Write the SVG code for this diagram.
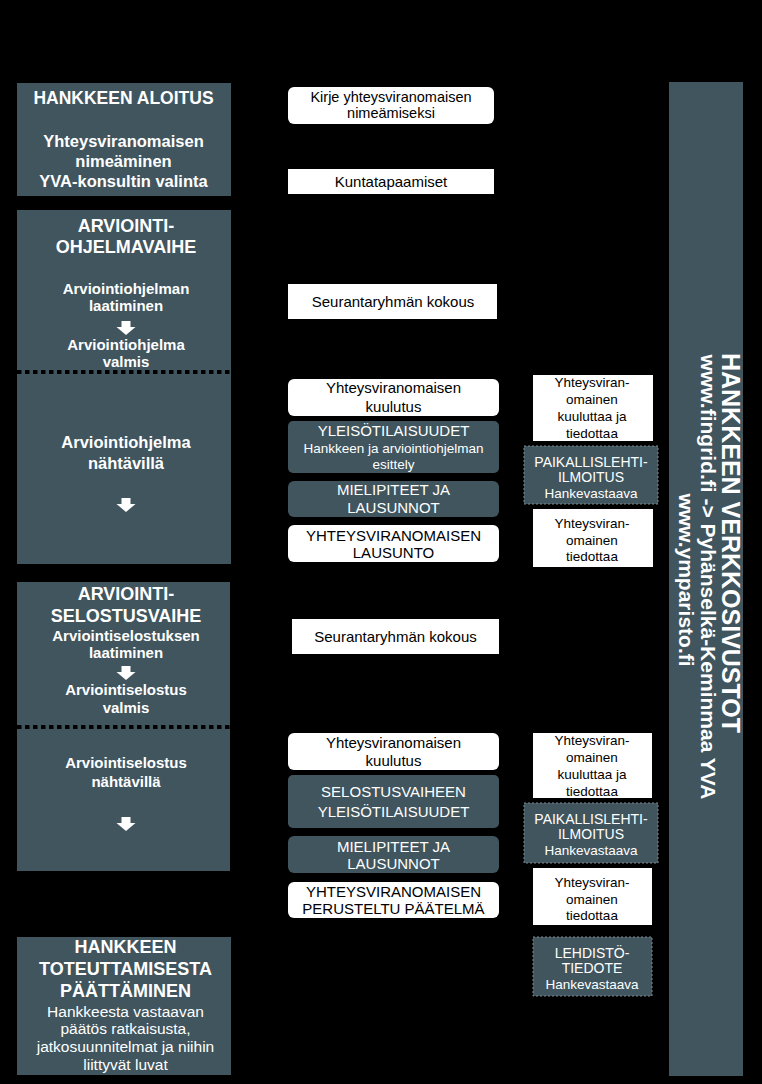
<svg xmlns="http://www.w3.org/2000/svg" xmlns:xlink="http://www.w3.org/1999/xlink" width="762" height="1084" viewBox="0 0 762 1084">
<style>
.dark{fill:#40555e}
.white{fill:#ffffff}
.dash{fill:#40555e;stroke:#7a8a90;stroke-width:1;stroke-dasharray:2 2}
text{font-family:"Liberation Sans",Arial,sans-serif;text-anchor:middle}
.tw{fill:#ffffff;font-weight:bold}
.title{font-size:18px}
.sub1{font-size:16.5px}
.sub{font-size:15px}
.reg{fill:#ffffff;font-size:15.5px}
.mb{fill:#000000;font-size:15px}
.mw{fill:#ffffff;font-size:15px}
.rb{fill:#000000;font-size:13.5px}
.rw{fill:#ffffff;font-size:14px}
.dots{stroke:#000;stroke-width:4;stroke-dasharray:4.5 3.5}
</style>
<defs>
<path id="arr" d="M-4.5,0 h9 v6 h5 l-9.5,8 l-9.5,-8 h5 z" fill="#ffffff"/>
</defs>
<rect x="0" y="0" width="762" height="1084" fill="#000000"/>

<g id="aloitus">
<rect class="dark" x="17" y="83" width="214" height="113"/>
<text class="tw" x="123.5" y="104" style="font-size:17.5px">HANKKEEN ALOITUS</text>
<text class="tw sub1" x="123.5" y="147">Yhteysviranomaisen</text>
<text class="tw sub1" x="123.5" y="167">nimeäminen</text>
<text class="tw sub1" x="123.5" y="187">YVA-konsultin valinta</text>
</g>

<g id="ohjelmavaihe">
<rect class="dark" x="17" y="210" width="214" height="354"/>
<text class="tw title" x="126" y="232">ARVIOINTI-</text>
<text class="tw title" x="126" y="253">OHJELMAVAIHE</text>
<text class="tw sub" x="126" y="294">Arviointiohjelman</text>
<text class="tw sub" x="126" y="311">laatiminen</text>
<text class="tw sub" x="126" y="350">Arviointiohjelma</text>
<text class="tw sub" x="126" y="367">valmis</text>
<line class="dots" x1="17" y1="372" x2="231" y2="372"/>
<text class="tw sub1" x="126" y="448">Arviointiohjelma</text>
<text class="tw sub1" x="126" y="469">nähtävillä</text>
</g>

<g id="selostusvaihe">
<rect class="dark" x="17" y="582" width="213" height="289"/>
<text class="tw title" x="126" y="600">ARVIOINTI-</text>
<text class="tw title" x="126" y="622">SELOSTUSVAIHE</text>
<text class="tw sub" x="126" y="641">Arviointiselostuksen</text>
<text class="tw sub" x="126" y="658">laatiminen</text>
<text class="tw sub" x="126" y="695">Arviointiselostus</text>
<text class="tw sub" x="126" y="713">valmis</text>
<line class="dots" x1="17" y1="727" x2="230" y2="727"/>
<text class="tw sub" x="126" y="768">Arviointiselostus</text>
<text class="tw sub" x="126" y="787">nähtävillä</text>
</g>

<g id="paattaminen">
<rect class="dark" x="17" y="937" width="214" height="138"/>
<text class="tw title" x="125.5" y="953">HANKKEEN</text>
<text class="tw title" x="125.5" y="975">TOTEUTTAMISESTA</text>
<text class="tw title" x="125.5" y="997">PÄÄTTÄMINEN</text>
<text class="reg" x="125.5" y="1017">Hankkeesta vastaavan</text>
<text class="reg" x="125.5" y="1034">päätös ratkaisusta,</text>
<text class="reg" x="125.5" y="1052">jatkosuunnitelmat ja niihin</text>
<text class="reg" x="125.5" y="1070">liittyvät luvat</text>
</g>

<g id="kirje">
<rect class="white" x="288" y="87" width="206" height="37" rx="6"/>
<text class="mb" x="391" y="102" style="font-size:14.5px">Kirje yhteysviranomaisen</text>
<text class="mb" x="391" y="118" style="font-size:14.5px">nimeämiseksi</text>
</g>

<g id="kuntatapaamiset">
<rect class="white" x="288" y="169" width="206" height="25"/>
<text class="mb" x="391" y="187">Kuntatapaamiset</text>
</g>

<g id="seuranta1">
<rect class="white" x="288" y="284" width="209" height="35"/>
<text class="mb" x="393" y="307">Seurantaryhmän kokous</text>
</g>

<g id="kuulutus1">
<rect class="white" x="288" y="379" width="211" height="37" rx="6"/>
<text class="mb" x="393.5" y="393">Yhteysviranomaisen</text>
<text class="mb" x="393.5" y="412">kuulutus</text>
</g>

<g id="yleiso1">
<rect class="dark" x="288" y="421" width="211" height="52" rx="5"/>
<text class="mw" x="393.5" y="436">YLEISÖTILAISUUDET</text>
<text class="mw" x="393.5" y="453" style="font-size:13.5px">Hankkeen ja arviointiohjelman</text>
<text class="mw" x="393.5" y="469" style="font-size:13.5px">esittely</text>
</g>

<g id="mielipiteet1">
<rect class="dark" x="288" y="481" width="211" height="36" rx="6"/>
<text class="mw" x="393.5" y="495">MIELIPITEET JA</text>
<text class="mw" x="393.5" y="513">LAUSUNNOT</text>
</g>

<g id="lausunto">
<rect class="white" x="288" y="525" width="211" height="37" rx="6"/>
<text class="mb" x="393.5" y="541">YHTEYSVIRANOMAISEN</text>
<text class="mb" x="393.5" y="558">LAUSUNTO</text>
</g>

<g id="tiedottaa1">
<rect class="white" x="533" y="375" width="120" height="66"/>
<text class="rb" x="592" y="387">Yhteysviran-</text>
<text class="rb" x="592" y="404">omainen</text>
<text class="rb" x="592" y="421">kuuluttaa ja</text>
<text class="rb" x="592" y="438">tiedottaa</text>
</g>

<g id="paikallis1">
<rect class="dash" x="524" y="446" width="134" height="58"/>
<text class="rw" x="591" y="467">PAIKALLISLEHTI-</text>
<text class="rw" x="591" y="482">ILMOITUS</text>
<text class="rw" x="591" y="498" style="font-size:13.5px">Hankevastaava</text>
</g>

<g id="tiedottaa2">
<rect class="white" x="533" y="509" width="120" height="58"/>
<text class="rb" x="592" y="528">Yhteysviran-</text>
<text class="rb" x="592" y="545">omainen</text>
<text class="rb" x="592" y="561">tiedottaa</text>
</g>

<g id="seuranta2">
<rect class="white" x="292" y="619" width="207" height="35"/>
<text class="mb" x="395.5" y="642">Seurantaryhmän kokous</text>
</g>

<g id="kuulutus2">
<rect class="white" x="288" y="733" width="211" height="37" rx="6"/>
<text class="mb" x="393.5" y="748">Yhteysviranomaisen</text>
<text class="mb" x="393.5" y="766">kuulutus</text>
</g>

<g id="yleiso2">
<rect class="dark" x="288" y="775" width="211" height="53" rx="5"/>
<text class="mw" x="393.5" y="797">SELOSTUSVAIHEEN</text>
<text class="mw" x="393.5" y="817">YLEISÖTILAISUUDET</text>
</g>

<g id="mielipiteet2">
<rect class="dark" x="288" y="836" width="211" height="37" rx="6"/>
<text class="mw" x="393.5" y="852">MIELIPITEET JA</text>
<text class="mw" x="393.5" y="869">LAUSUNNOT</text>
</g>

<g id="paatelma">
<rect class="white" x="288" y="882" width="211" height="36" rx="6"/>
<text class="mb" x="393.5" y="897">YHTEYSVIRANOMAISEN</text>
<text class="mb" x="393.5" y="914">PERUSTELTU PÄÄTELMÄ</text>
</g>

<g id="tiedottaa3">
<rect class="white" x="533" y="733" width="119" height="65"/>
<text class="rb" x="592" y="745">Yhteysviran-</text>
<text class="rb" x="592" y="762">omainen</text>
<text class="rb" x="592" y="779">kuuluttaa ja</text>
<text class="rb" x="592" y="796">tiedottaa</text>
</g>

<g id="paikallis2">
<rect class="dash" x="524" y="803" width="134" height="60"/>
<text class="rw" x="591" y="824">PAIKALLISLEHTI-</text>
<text class="rw" x="591" y="839">ILMOITUS</text>
<text class="rw" x="591" y="855" style="font-size:13.5px">Hankevastaava</text>
</g>

<g id="tiedottaa4">
<rect class="white" x="533" y="868" width="119" height="57"/>
<text class="rb" x="592" y="887">Yhteysviran-</text>
<text class="rb" x="592" y="904">omainen</text>
<text class="rb" x="592" y="920">tiedottaa</text>
</g>

<g id="lehdisto">
<rect class="dash" x="533" y="937" width="119" height="59"/>
<text class="rw" x="592" y="958">LEHDISTÖ-</text>
<text class="rw" x="592" y="973">TIEDOTE</text>
<text class="rw" x="592" y="989" style="font-size:13.5px">Hankevastaava</text>
</g>

<g id="verkkosivustot">
<rect class="dark" x="669" y="82" width="74" height="994"/>
<text class="tw" transform="translate(722,543) rotate(90)" style="font-size:25px">HANKKEEN VERKKOSIVUSTOT</text>
<text class="tw" transform="translate(701,577) rotate(90)" style="font-size:21px">www.fingrid.fi -&gt; Pyhänselkä-Keminmaa YVA</text>
<text class="tw" transform="translate(679,580) rotate(90)" style="font-size:21px">www.ymparisto.fi</text>
</g>

<g id="connectors">
<use xlink:href="#arr" x="126" y="321"/>
<use xlink:href="#arr" x="126" y="498"/>
<use xlink:href="#arr" x="126" y="666"/>
<use xlink:href="#arr" x="126" y="817"/>
</g>
</svg>
